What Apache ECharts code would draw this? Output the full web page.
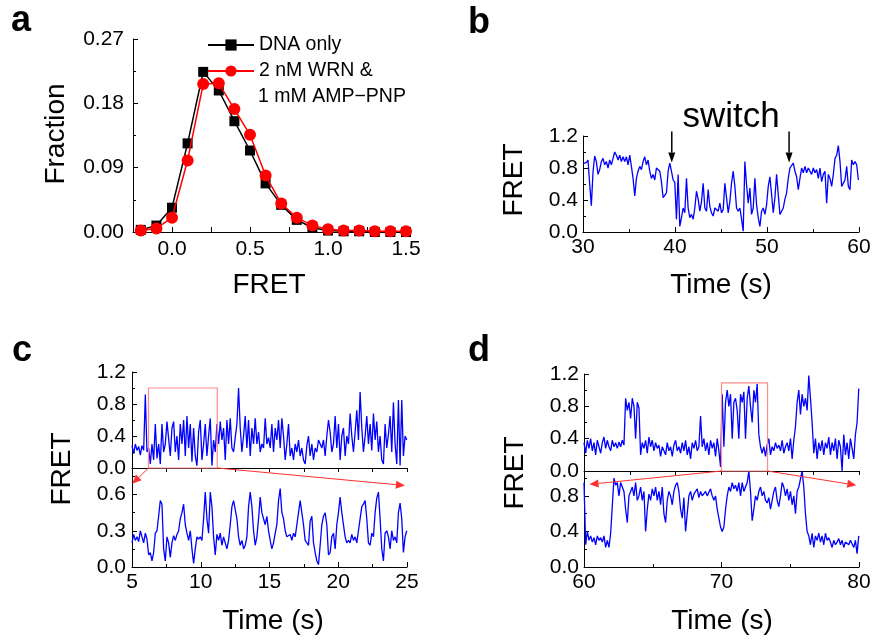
<!DOCTYPE html>
<html><head><meta charset="utf-8">
<script src="https://cdn.jsdelivr.net/npm/echarts@6/dist/echarts.min.js"></script>
<style>html,body{margin:0;padding:0;background:#fff}#c{width:875px;height:642px}</style>
</head><body><div id="c"></div>
<script>
// ---------- Panel a: FRET histograms ----------
const fretBins  = [-0.2,-0.1,0.0,0.1,0.2,0.3,0.4,0.5,0.6,0.7,0.8,0.9,1.0,1.1,1.2,1.3,1.4,1.5];
const dnaOnly   = [0.003,0.009,0.034,0.124,0.224,0.198,0.155,0.114,0.068,0.038,0.017,0.006,0.002,0.001,0.001,0.000,0.000,0.000];
const wrnAmpPnp = [0.002,0.005,0.020,0.100,0.207,0.208,0.172,0.136,0.079,0.040,0.020,0.009,0.004,0.002,0.002,0.001,0.001,0.001];
const aXTicks = [0.0,0.5,1.0,1.5];
const aYTicks = [0.00,0.09,0.18,0.27];

// ---------- Panel b: single-molecule trace, 30–60 s ----------
const bStart = 30, bFrame = 0.1814;
const bFret = [0.85,0.84,0.87,0.90,0.60,0.33,0.75,0.95,0.88,0.72,0.78,0.88,0.92,0.84,0.88,0.80,0.90,0.84,0.92,1.00,
0.96,0.90,0.96,0.88,0.94,0.88,0.94,0.84,0.96,0.82,0.67,0.45,0.67,0.76,0.82,0.78,0.88,0.94,0.84,0.90,
0.76,0.67,0.72,0.65,0.80,0.82,0.76,0.63,0.43,0.45,0.49,0.76,0.86,0.76,0.65,0.62,0.16,0.72,0.07,0.18,
0.30,0.24,0.67,0.30,0.18,0.22,0.16,0.30,0.51,0.41,0.26,0.38,0.61,0.30,0.26,0.53,0.32,0.24,0.20,0.30,
0.32,0.26,0.36,0.24,0.28,0.61,0.43,0.24,0.38,0.61,0.76,0.57,0.30,0.26,0.30,0.16,0.01,0.88,0.59,0.36,
0.55,0.22,0.30,0.67,0.34,0.18,0.07,0.26,0.30,0.22,0.34,0.57,0.69,0.47,0.24,0.43,0.72,0.47,0.22,0.26,
0.30,0.41,0.49,0.67,0.80,0.78,0.86,0.76,0.69,0.53,0.67,0.80,0.74,0.82,0.74,0.80,0.78,0.72,0.80,0.74,
0.78,0.67,0.80,0.63,0.72,0.76,0.36,0.72,0.67,0.57,0.72,0.92,0.96,1.08,0.88,0.57,0.55,0.65,0.82,0.57,
0.53,0.90,0.84,0.88,0.84,0.65];
const bTicksX = [30,40,50,60];
const bTicksY = [0.0,0.4,0.8,1.2];
const bSwitchTimes = [39.65, 52.4];

// ---------- Panel c: trace 5–25 s and zoom ----------
const cStart = 5, cFrame = 0.1211;
const cFretFull = [0.28,0.18,0.30,0.22,0.27,0.16,0.28,0.22,0.92,0.20,0.25,0.05,0.30,0.10,0.55,0.12,0.30,0.05,0.55,0.20,
0.30,0.58,0.60,0.15,0.50,0.58,0.20,0.40,0.10,0.55,0.30,0.60,0.15,0.65,0.25,0.55,0.08,0.50,0.15,0.03,
0.45,0.60,0.10,0.30,0.55,0.15,0.40,0.62,0.03,0.35,0.20,0.55,0.30,0.58,0.35,0.50,0.10,0.60,0.30,0.62,
0.25,0.20,0.38,0.55,1.00,0.50,0.20,0.40,0.65,0.25,0.60,0.15,0.50,0.30,0.62,0.30,0.45,0.20,0.30,0.25,
0.62,0.30,0.38,0.25,
0.55,0.20,0.50,0.35,0.60,0.25,0.62,0.40,0.10,0.30,0.55,0.15,0.25,0.10,0.30,0.20,0.35,0.15,0.25,0.10,
0.05,0.28,0.40,0.15,0.30,0.10,0.25,0.20,0.35,0.30,0.25,0.35,0.15,0.40,0.60,0.45,0.20,0.30,0.65,0.25,
0.55,0.10,0.40,0.50,0.15,0.40,0.30,0.68,0.40,0.20,0.45,0.72,0.35,0.95,0.50,0.20,0.40,0.65,0.30,0.55,
0.22,0.68,0.35,0.58,0.20,0.40,0.10,0.05,0.55,0.25,0.42,0.65,0.20,0.82,0.30,0.05,0.85,0.03,0.85,0.15,
0.40,0.35];
const cFretZoom = [0.20,0.27,0.22,0.25,0.21,0.30,0.25,0.20,0.28,0.23,0.10,0.12,0.05,0.12,0.28,0.30,0.42,0.55,0.52,0.15,
0.05,0.25,0.20,0.08,0.20,0.26,0.22,0.27,0.30,0.40,0.45,0.52,0.35,0.28,0.22,0.30,0.15,0.03,0.15,0.25,
0.23,0.25,0.22,0.40,0.62,0.40,0.28,0.62,0.50,0.25,0.10,0.27,0.22,0.28,0.18,0.25,0.20,0.15,0.22,0.35,
0.50,0.55,0.56,0.40,0.25,0.18,0.22,0.15,0.18,0.25,0.50,0.62,0.50,0.30,0.18,0.25,0.40,0.58,0.45,0.40,
0.35,0.42,0.30,0.22,0.15,0.20,0.28,0.35,0.55,0.65,0.45,0.40,0.30,0.25,0.25,0.27,0.22,0.28,0.25,0.35,
0.45,0.55,0.45,0.35,0.22,0.20,0.18,0.38,0.42,0.20,0.12,0.05,0.02,0.18,0.35,0.42,0.45,0.35,0.10,0.12,
0.25,0.28,0.15,0.35,0.45,0.58,0.45,0.35,0.25,0.20,0.22,0.20,0.27,0.22,0.25,0.20,0.30,0.40,0.50,0.52,
0.55,0.40,0.20,0.18,0.28,0.25,0.45,0.57,0.62,0.40,0.15,0.05,0.28,0.30,0.25,0.15,0.30,0.22,0.25,0.20,
0.45,0.53,0.40,0.12,0.25,0.30];
const cTicksX = [5,10,15,20,25];
const cTicksYTop = [0.0,0.4,0.8,1.2];
const cTicksYBottom = [0.0,0.3,0.6];
const cZoomWindow = [6.2, 11.2];

// ---------- Panel d: trace 60–80 s and zoom ----------
const dStart = 60, dFrame = 0.1211;
const dFretFull = [0.35,0.22,0.38,0.28,0.40,0.25,0.35,0.20,0.38,0.30,0.22,0.35,0.42,0.28,0.38,0.30,0.25,0.38,0.30,0.35,
0.28,0.36,0.30,0.38,0.32,0.90,0.75,0.85,0.65,0.90,0.80,0.40,0.85,0.78,0.20,0.35,0.28,0.38,0.22,0.42,
0.30,0.38,0.25,0.35,0.28,0.32,0.18,0.30,0.25,0.20,0.35,0.25,0.30,0.18,0.32,0.38,0.25,0.30,0.22,0.35,
0.25,0.38,0.20,0.30,0.15,0.35,0.28,0.38,0.25,0.30,0.68,0.30,0.40,0.25,0.35,0.20,0.38,0.28,0.35,0.18,
0.40,0.25,0.05,0.95,
0.30,0.85,1.00,0.80,0.95,0.40,0.85,0.90,0.75,0.40,0.95,0.85,0.98,0.40,0.90,1.05,0.80,0.60,1.00,0.85,
1.08,0.45,0.30,0.22,0.30,0.18,0.32,0.40,0.20,0.30,0.25,0.35,0.28,0.32,0.25,0.38,0.22,0.30,0.35,0.25,
0.40,0.15,0.38,0.55,0.85,1.00,0.70,0.95,0.80,0.90,0.75,1.18,0.90,0.60,0.22,0.40,0.15,0.35,0.25,0.38,
0.20,0.35,0.28,0.42,0.20,0.35,0.25,0.40,0.15,0.38,0.30,0.00,0.45,0.20,0.35,0.15,0.40,0.28,0.15,0.45,
0.60,1.02];
const dFretZoom = [0.95,0.25,0.40,0.30,0.35,0.28,0.33,0.25,0.35,0.30,0.33,0.28,0.35,0.22,0.30,0.22,0.38,0.40,1.00,0.92,
0.95,0.80,0.95,0.90,0.85,0.65,0.50,0.80,0.85,0.90,0.80,0.95,0.75,0.80,0.90,0.75,0.85,0.40,0.65,0.82,
0.75,0.88,0.80,0.90,0.75,0.85,0.70,0.90,0.60,0.50,0.75,0.85,0.80,0.70,0.85,0.92,0.95,0.85,0.65,0.55,
0.78,0.40,0.60,0.80,0.85,0.75,0.82,0.80,0.88,0.78,0.85,0.80,0.78,0.85,0.80,0.82,0.88,0.80,0.75,0.80,
0.65,0.55,0.45,0.40,0.45,0.65,0.80,0.90,0.85,0.95,0.88,0.92,0.85,0.95,0.80,0.95,0.85,0.90,0.95,1.08,
0.85,0.52,0.65,0.80,0.75,0.85,0.90,0.80,0.85,0.75,0.72,0.78,0.65,0.75,0.85,0.90,0.75,0.68,0.80,0.95,
0.90,0.80,0.88,0.75,0.85,0.70,0.80,0.60,0.85,0.90,0.92,1.08,0.90,0.60,0.40,0.35,0.25,0.38,0.22,0.35,
0.30,0.38,0.28,0.35,0.25,0.38,0.30,0.33,0.28,0.22,0.30,0.25,0.28,0.32,0.25,0.30,0.22,0.28,0.30,0.25,
0.30,0.28,0.22,0.30,0.15,0.35];
const dTicksX = [60,70,80];
const dTicksYTop = [0.0,0.4,0.8,1.2];
const dTicksYBottom = [0.0,0.4,0.8];
const dZoomWindow = [70, 73.35];

// ---------- helpers ----------
const FF = "'Liberation Sans', Arial, Helvetica, sans-serif";
const BLUE = '#0000ff';
function trace(values, t0, dt) { return values.map((v, i) => [t0 + i * dt, v]); }
const step = t => t[1] - t[0];

function axis(o) {
  return {
    type: 'value', gridIndex: o.grid, min: o.min, max: o.max, interval: o.interval,
    axisLine: { show: true, onZero: false, lineStyle: { color: '#000', width: 1 } },
    axisTick: { show: true, inside: o.tickOut ? false : true, length: o.tickLen || 5, lineStyle: { color: '#000', width: 1 } },
    minorTick: { show: !!o.minor, splitNumber: 2, length: 3, lineStyle: { color: '#000', width: 1 } },
    splitLine: { show: false }, minorSplitLine: { show: false },
    axisLabel: {
      show: o.labels !== false, color: '#000', fontSize: 21, fontFamily: FF, margin: o.margin || 6,
      formatter: o.fmt, showMaxLabel: o.hideMax ? false : null, showMinLabel: true
    }
  };
}

const chart = echarts.init(document.getElementById('c'), null, { renderer: 'canvas' });

const grids = [
  { left: 133, top: 39, width: 273, height: 193 },   // a
  { left: 583, top: 136, width: 276, height: 96 },   // b
  { left: 132, top: 372, width: 275, height: 96 },   // c upper
  { left: 132, top: 468, width: 275, height: 99 },   // c lower
  { left: 584, top: 374, width: 275, height: 97 },   // d upper
  { left: 584, top: 471, width: 275, height: 96 }    // d lower
].map(g => Object.assign({ containLabel: false, outerBoundsMode: 'none' }, g));

const fmt = d => v => v.toFixed(d);

const xAxes = [
  axis({ grid: 0, min: -0.25, max: aXTicks[aXTicks.length-1], interval: step(aXTicks) / 2, margin: 7,
         fmt: v => aXTicks.some(t => Math.abs(t - v) < 1e-6) ? v.toFixed(1) : '' }),
  axis({ grid: 1, min: bTicksX[0], max: bTicksX[bTicksX.length-1], interval: step(bTicksX), minor: true, margin: 5, fmt: fmt(0) }),
  axis({ grid: 2, min: cTicksX[0], max: cTicksX[cTicksX.length-1], interval: step(cTicksX) / 2, labels: false, tickOut: true, tickLen: 4 }),
  axis({ grid: 3, min: cTicksX[0], max: cTicksX[cTicksX.length-1], interval: step(cTicksX), minor: true, margin: 5, fmt: fmt(0) }),
  axis({ grid: 4, min: dTicksX[0], max: dTicksX[dTicksX.length-1], interval: (dTicksX[dTicksX.length-1]-dTicksX[0]) / 6, labels: false, tickOut: true, tickLen: 4 }),
  axis({ grid: 5, min: dTicksX[0], max: dTicksX[dTicksX.length-1], interval: step(dTicksX), minor: true, margin: 5, fmt: fmt(0) })
];
const yAxes = [
  axis({ grid: 0, min: aYTicks[0], max: aYTicks[aYTicks.length-1], interval: step(aYTicks), minor: true, margin: 9, fmt: fmt(2) }),
  axis({ grid: 1, min: bTicksY[0], max: bTicksY[bTicksY.length-1], interval: step(bTicksY), minor: true, margin: 5, fmt: fmt(1) }),
  axis({ grid: 2, min: cTicksYTop[0], max: cTicksYTop[cTicksYTop.length-1], interval: step(cTicksYTop), minor: true, margin: 6, fmt: fmt(1) }),
  axis({ grid: 3, min: cTicksYBottom[0], max: 0.82, interval: step(cTicksYBottom), minor: true, margin: 6, fmt: fmt(1), hideMax: true }),
  axis({ grid: 4, min: dTicksYTop[0], max: dTicksYTop[dTicksYTop.length-1], interval: step(dTicksYTop), minor: true, margin: 5, fmt: fmt(1) }),
  axis({ grid: 5, min: dTicksYBottom[0], max: 1.08, interval: step(dTicksYBottom), minor: true, margin: 5, fmt: fmt(1), hideMax: true })
];

const traceSeries = (name, idx, data) => ({
  name, type: 'line', xAxisIndex: idx, yAxisIndex: idx, data, showSymbol: false, symbol: 'none',
  lineStyle: { color: BLUE, width: 1.3 }, itemStyle: { color: BLUE }, silent: true, z: 3
});

const W_NAME = '2 nM WRN &';

const textEl = (id, text, x, y, size, extra) => Object.assign({
  type: 'text', id, x, y, silent: true, z: 50,
  style: { text, font: (extra && extra.bold ? 'bold ' : '') + size + 'px ' + FF, fill: '#000', align: 'center', verticalAlign: 'middle' }
}, extra && extra.rotation ? { rotation: extra.rotation } : {});

const option = {
  animation: false,
  backgroundColor: '#fff',
  grid: grids,
  xAxis: xAxes,
  yAxis: yAxes,
  legend: {
    left: 202, top: 29, padding: 5, orient: 'vertical', itemWidth: 46, itemHeight: 14, itemGap: 4,
    textStyle: { fontSize: 19.5, fontFamily: FF, color: '#000', lineHeight: 22 },
    data: ['DNA only', W_NAME], selectedMode: false
  },
  series: [
    { name: 'DNA only', type: 'line', xAxisIndex: 0, yAxisIndex: 0,
      data: fretBins.map((x, i) => [x, dnaOnly[i]]),
      symbol: 'rect', symbolSize: 10, lineStyle: { color: '#000', width: 1.5 }, itemStyle: { color: '#000' }, z: 3 },
    { name: W_NAME, type: 'line', xAxisIndex: 0, yAxisIndex: 0,
      data: fretBins.map((x, i) => [x, wrnAmpPnp[i]]),
      symbol: 'circle', symbolSize: 12, lineStyle: { color: '#ff0000', width: 1.5 }, itemStyle: { color: '#ff0000' }, z: 4 },
    traceSeries('b', 1, trace(bFret, bStart, bFrame)),
    traceSeries('c full', 2, trace(cFretFull, cStart, cFrame)),
    traceSeries('c zoom', 3, trace(cFretZoom, cStart, cFrame)),
    traceSeries('d full', 4, trace(dFretFull, dStart, dFrame)),
    traceSeries('d zoom', 5, trace(dFretZoom, dStart, dFrame))
  ],
  graphic: [
    textEl('la', 'a', 21, 21.5, 36, { bold: true }),
    textEl('lb', 'b', 479, 23.5, 36, { bold: true }),
    textEl('lc', 'c', 22, 351.5, 36, { bold: true }),
    textEl('ld', 'd', 479, 351.5, 36, { bold: true }),
    textEl('legend2', '1 mM AMP\u2212PNP', 258, 97, 19.5),
    textEl('aY', 'Fraction', 56.6, 134, 28, { rotation: Math.PI / 2 }),
    textEl('aX', 'FRET', 269, 285.5, 28),
    textEl('bY', 'FRET', 514, 180, 28, { rotation: Math.PI / 2 }),
    textEl('bX', 'Time (s)', 721, 285.5, 28),
    textEl('sw', 'switch', 731, 117.5, 35),
    textEl('cY', 'FRET', 62.5, 469, 28, { rotation: Math.PI / 2 }),
    textEl('cX', 'Time (s)', 273, 621, 28),
    textEl('dY', 'FRET', 515, 473, 28, { rotation: Math.PI / 2 }),
    textEl('dX', 'Time (s)', 722, 621, 28)
  ]
};
option.graphic[4].style.align = 'left';
chart.setOption(option);

// ---------- annotations placed through the axes' own scales ----------
const P = (g, pt) => chart.convertToPixel({ gridIndex: g }, pt);
function arrow(id, a, b, color, w, headLen, headW) {
  const dx = b[0] - a[0], dy = b[1] - a[1], L = Math.hypot(dx, dy), ux = dx / L, uy = dy / L;
  const bx = b[0] - ux * headLen, by = b[1] - uy * headLen;
  return [
    { type: 'line', id: id + 'l', silent: true, z: 60, shape: { x1: a[0], y1: a[1], x2: bx, y2: by }, style: { stroke: color, lineWidth: w } },
    { type: 'polygon', id: id + 'h', silent: true, z: 60,
      shape: { points: [[b[0], b[1]], [bx - uy * headW, by + ux * headW], [bx + uy * headW, by - ux * headW]] }, style: { fill: color } }
  ];
}
function rectEl(id, g, x0, x1, y0, y1) {
  const p1 = P(g, [x0, y1]), p2 = P(g, [x1, y0]);
  return { type: 'rect', id, silent: true, z: 55, shape: { x: p1[0], y: p1[1], width: p2[0] - p1[0], height: p2[1] - p1[1] },
           style: { fill: 'none', stroke: '#ff8a8a', lineWidth: 1.2 } };
}
const RED = '#ff3030';
const ann = [
  ...arrow('bs1', P(1, [bSwitchTimes[0], 1.255]), P(1, [bSwitchTimes[0], 0.87]), '#000', 1.5, 10, 3.5),
  ...arrow('bs2', P(1, [bSwitchTimes[1], 1.255]), P(1, [bSwitchTimes[1], 0.87]), '#000', 1.5, 10, 3.5),
  rectEl('cr', 2, cZoomWindow[0], cZoomWindow[1], 0, 1.0),
  ...arrow('ca1', P(2, [cZoomWindow[0], 0]), P(3, [5.02, 0.69]), RED, 1, 9, 4),
  ...arrow('ca2', P(2, [cZoomWindow[1], 0]), P(3, [24.85, 0.675]), RED, 1, 9, 4),
  rectEl('dr', 4, dZoomWindow[0], dZoomWindow[1], 0, 1.09),
  ...arrow('da1', P(4, [dZoomWindow[0], 0]), P(5, [60.4, 0.93]), RED, 1, 9, 4),
  ...arrow('da2', P(4, [dZoomWindow[1], 0]), P(5, [79.8, 0.92]), RED, 1, 9, 4)
];
chart.setOption({ graphic: ann });
</script>
</body></html>
